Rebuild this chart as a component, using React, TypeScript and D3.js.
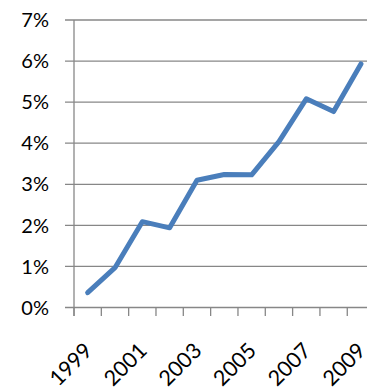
import React from "react";
import * as d3 from "d3";

const years = ["1999","2000","2001","2002","2003","2004","2005","2006","2007","2008","2009"];
const values = [0.36, 0.97, 2.09, 1.94, 3.10, 3.24, 3.23, 4.04, 5.08, 4.77, 5.93];
const yTicks = [0, 1, 2, 3, 4, 5, 6, 7];
const xLabels = ["1999","2001","2003","2005","2007","2009"];

export default function App() {
  const W = 367, H = 388;
  const left = 74, right = 374.6, top = 20, bottom = 307.5;
  const x = d3.scaleBand<string>().domain(years).range([left, right]).paddingInner(0).paddingOuter(0);
  const y = d3.scaleLinear().domain([0, 7]).range([bottom, top]);
  const cx = (d: string) => (x(d) as number) + x.bandwidth() / 2;
  const line = d3.line<number>().x((_, i) => cx(years[i])).y(v => y(v));
  const font = "Lato, 'Open Sans', sans-serif";
  const tickXs = years.map(d => x(d) as number).concat([right]);
  return (
    <div style={{ position: "fixed", left: 0, top: 0 }}>
      <svg width={W} height={H} style={{ display: "block", background: "#fff" }}>
        {yTicks.map(t => (
          <g key={t}>
            <line x1={65} x2={W} y1={y(t)} y2={y(t)} stroke="#878787" strokeWidth={1.3} />
            <text x={49} y={y(t)} dy="0.36em" textAnchor="end" fontFamily={font} fontSize={20} fill="#000">{t}%</text>
          </g>
        ))}
        <line x1={left} x2={left} y1={top} y2={bottom + 8.5} stroke="#878787" strokeWidth={1.3} />
        {tickXs.map((tx, i) => (
          <line key={i} x1={tx} x2={tx} y1={bottom} y2={bottom + 8.5} stroke="#878787" strokeWidth={1.3} />
        ))}
        <path d={line(values) || ""} fill="none" stroke="#4A7EBB" strokeWidth={5} strokeLinejoin="round" strokeLinecap="round" />
        {xLabels.map(l => (
          <text key={l} transform={`translate(${cx(l) + 6},${352}) rotate(-45)`} textAnchor="end" fontFamily={font} fontSize={21.5} fill="#000">{l}</text>
        ))}
      </svg>
    </div>
  );
}
